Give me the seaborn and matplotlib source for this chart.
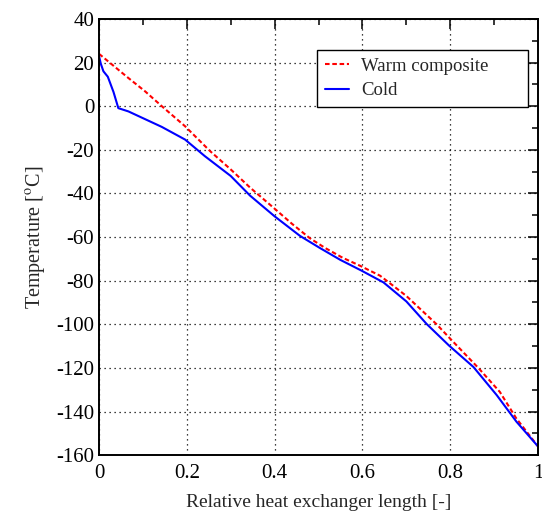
import numpy as np
import pandas as pd
import matplotlib
matplotlib.use("Agg")
import matplotlib.pyplot as plt
import seaborn as sns
from matplotlib.ticker import MultipleLocator, FormatStrFormatter

# Warm composite curve
warm_x = [0.0, 0.035, 0.067, 0.105, 0.143, 0.196, 0.253, 0.30, 0.344, 0.40,
          0.44, 0.48, 0.515, 0.555, 0.595, 0.64, 0.655, 0.70, 0.769, 0.80,
          0.864, 0.913, 0.95, 1.0]
warm_t = [24, 18.2, 12.9, 6.8, 0, -9.2, -20.6, -29, -37.3, -47,
          -54, -60.5, -65, -69.5, -73.2, -77.7, -80, -87, -100, -106.6,
          -120, -131, -143, -156]

# Cold curve
cold_x = [0.0, 0.004, 0.01, 0.02, 0.033, 0.044, 0.067, 0.143, 0.196,
          0.241, 0.30, 0.344, 0.40, 0.458, 0.503, 0.55, 0.598, 0.648, 0.70,
          0.746, 0.797, 0.853, 0.906, 0.951, 1.0]
cold_t = [23, 19.5, 16, 13.5, 6.5, -0.9, -2.4, -9.5, -15.3,
          -22.9, -32, -41, -50.5, -59.5, -65, -70.5, -75.4, -80.8, -89.5,
          -99.8, -109.7, -119.6, -132.5, -144.7, -156]

warm = pd.DataFrame({"x": warm_x, "T": warm_t})
cold = pd.DataFrame({"x": cold_x, "T": cold_t})

sns.set_style("white")
plt.rcParams["font.family"] = ["Liberation Serif", "DejaVu Serif"]
plt.rcParams["mathtext.fontset"] = "stix"
plt.rcParams["axes.unicode_minus"] = False

fig = plt.figure(figsize=(5.42, 5.12), dpi=100)
ax = fig.add_axes([0.1827, 0.111, 0.81, 0.852])

sns.lineplot(data=warm, x="x", y="T", ax=ax, color="red", linestyle=(0, (2.2, 1.3)),
             linewidth=1.5, label="Warm composite")
sns.lineplot(data=cold, x="x", y="T", ax=ax, color="blue", linewidth=1.5,
             label="Cold")

ax.set_xlim(0, 1)
ax.set_ylim(-160, 40)
ax.xaxis.set_major_locator(MultipleLocator(0.2))
ax.xaxis.set_minor_locator(MultipleLocator(0.1))
ax.yaxis.set_major_locator(MultipleLocator(20))
ax.yaxis.set_minor_locator(MultipleLocator(10))
ax.xaxis.set_major_formatter(FormatStrFormatter("%g"))

ax.tick_params(which="both", direction="in", top=True, right=True,
               labelsize=15, colors="black", width=1.1)
ax.tick_params(which="major", length=7)
ax.tick_params(which="minor", length=4)
ax.tick_params(axis="x", which="major", pad=6)
ax.grid(True, which="major", linestyle=(0, (1, 3)), color="black", linewidth=0.9)
for s in ax.spines.values():
    s.set_color("black")
    s.set_linewidth(1.4)

ax.set_xlabel("Relative heat exchanger length [-]", fontsize=14, labelpad=8)
ax.set_ylabel(r"Temperature [$^{\mathrm{o}}$C]", fontsize=14.5, labelpad=6)

leg = ax.legend(loc="upper left", bbox_to_anchor=(0.4966, 0.0, 0.4806, 0.929),
                mode="expand", fontsize=13.5, frameon=True, fancybox=False,
                framealpha=1, edgecolor="black", borderpad=0.4,
                handlelength=1.3, handletextpad=0.65, labelspacing=0.4,
                borderaxespad=0)
leg.get_frame().set_linewidth(1.0)

fig.savefig("out.png", dpi=100)
